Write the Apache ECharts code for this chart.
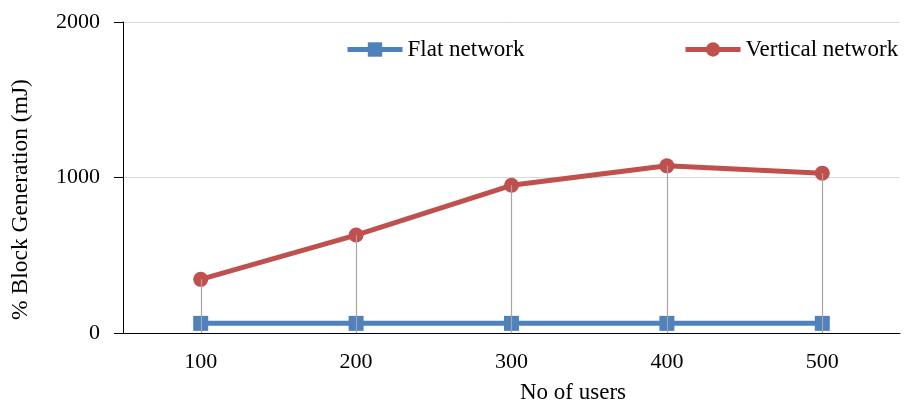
<!DOCTYPE html>
<html><head><meta charset="utf-8">
<script src="https://cdn.jsdelivr.net/npm/echarts@6/dist/echarts.min.js"></script>
<style>html,body{margin:0;padding:0;background:#fff}#c{width:905px;height:409px}</style>
</head><body><div id="c"></div>
<script>
const categories = ['100', '200', '300', '400', '500'];
const flatNetwork = [62, 62, 62, 62, 62];
const verticalNetwork = [345, 630, 950, 1075, 1028];
const yTicks = [0, 1000, 2000];

const chart = echarts.init(document.getElementById('c'));
const font = '"Liberation Serif", "Times New Roman", serif';
const legendBase = {
  top: 38, padding: 0, itemWidth: 55, itemHeight: 18, itemGap: 0,
  lineStyle: { width: 5 },
  textStyle: { fontFamily: font, fontSize: 23, color: '#000' }
};
chart.setOption({
  animation: false,
  textStyle: { fontFamily: font },
  grid: { left: 123, right: 5, top: 22, bottom: 72, containLabel: false },
  legend: [
    Object.assign({}, legendBase, { left: 345, data: ['Flat network'] }),
    Object.assign({}, legendBase, { left: 683, data: ['Vertical network'] })
  ],
  xAxis: {
    type: 'category', data: categories,
    name: 'No of users', nameLocation: 'middle', nameGap: 48,
    nameTextStyle: { fontFamily: font, fontSize: 23, color: '#000', padding: [0, 0, 0, 123] },
    axisLine: { lineStyle: { color: '#000', width: 1 } },
    axisTick: { show: false },
    axisLabel: { fontFamily: font, fontSize: 22, color: '#000', margin: 18 }
  },
  yAxis: {
    type: 'value', min: yTicks[0], max: yTicks[yTicks.length - 1], interval: 1000,
    name: '% Block Generation (mJ)', nameLocation: 'middle', nameGap: 90,
    nameTextStyle: { fontFamily: font, fontSize: 23.5, color: '#000', padding: [0, 44, 0, 0] },
    axisLine: { show: true, lineStyle: { color: '#000', width: 1 } },
    axisTick: { show: true, length: 9, lineStyle: { color: '#000' } },
    axisLabel: { fontFamily: font, fontSize: 22, color: '#000', margin: 23, formatter: v => String(v) },
    splitLine: { lineStyle: { color: '#d9d9d9', width: 1 } }
  },
  series: [
    {
      name: 'Flat network', type: 'line', data: flatNetwork,
      symbol: 'rect', symbolSize: 15,
      lineStyle: { color: '#4f81bd', width: 5 },
      itemStyle: { color: '#4f81bd' }, z: 3
    },
    {
      name: 'Vertical network', type: 'line', data: verticalNetwork,
      symbol: 'circle', symbolSize: 15,
      lineStyle: { color: '#c0504d', width: 5 },
      itemStyle: { color: '#c0504d' }, z: 3
    },
    {
      name: 'drop', type: 'custom', z: 5, silent: true,
      data: verticalNetwork.map((v, i) => [i, v]),
      renderItem: function (params, api) {
        const top = api.coord([api.value(0), api.value(1)]);
        const bot = api.coord([api.value(0), 0]);
        return {
          type: 'line',
          shape: { x1: Math.round(top[0]) + 0.5, y1: top[1], x2: Math.round(bot[0]) + 0.5, y2: bot[1] },
          style: { stroke: '#a6a6a6', lineWidth: 1.2 }
        };
      }
    }
  ]
});
</script></body></html>
